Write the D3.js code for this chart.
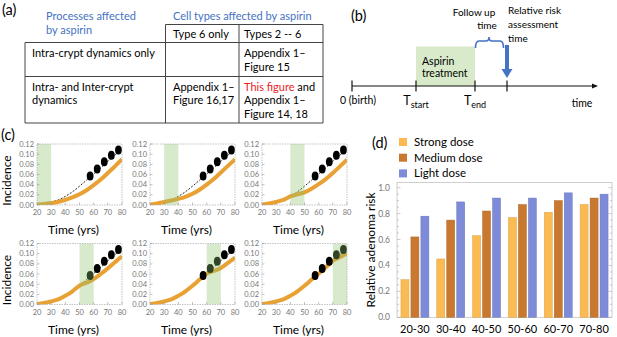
<!DOCTYPE html>
<html>
<head>
<meta charset="utf-8">
<script src="https://cdn.jsdelivr.net/npm/d3@7"></script>
<style>
body { margin: 0; background: #fff; }
text { font-family: Lato, "Open Sans", sans-serif; }
</style>
</head>
<body>
<svg id="fig" width="617" height="337"></svg>
<script>
// ---- (a) table text
var colHeads = ["Type 6 only", "Types 2 -- 6"];
var rowHeads = [["Intra-crypt dynamics only"], ["Intra- and Inter-crypt", "dynamics"]];

// ---- (c) model curves, read every 5 years
var ages = [20, 25, 30, 35, 40, 45, 50, 55, 60, 65, 70, 75, 80];
var baseline  = [0.001, 0.003, 0.006, 0.010, 0.017, 0.026, 0.037, 0.049, 0.061, 0.073, 0.086, 0.098, 0.110];
var treated20 = [0.001, 0.002, 0.004, 0.006, 0.010, 0.015, 0.021, 0.029, 0.039, 0.050, 0.063, 0.076, 0.090];
var treated30 = [0.001, 0.003, 0.006, 0.009, 0.012, 0.016, 0.022, 0.030, 0.040, 0.051, 0.064, 0.077, 0.090];
var treated40 = [0.001, 0.003, 0.006, 0.010, 0.017, 0.021, 0.025, 0.032, 0.041, 0.051, 0.063, 0.076, 0.089];
var treated50 = [0.001, 0.003, 0.006, 0.010, 0.017, 0.026, 0.037, 0.043, 0.050, 0.060, 0.071, 0.083, 0.095];
var treated60 = [0.001, 0.003, 0.006, 0.010, 0.017, 0.026, 0.037, 0.049, 0.061, 0.066, 0.072, 0.082, 0.092];
var treated70 = [0.001, 0.003, 0.006, 0.010, 0.017, 0.026, 0.037, 0.049, 0.061, 0.073, 0.086, 0.093, 0.101];
var treatStarts = [20, 30, 40, 50, 60, 70];
var dataAges = [57.5, 62.5, 67.5, 72.5, 77.5];
var dataIncidence = [0.057, 0.071, 0.085, 0.098, 0.108];
var incTicks = [0, 0.02, 0.04, 0.06, 0.08, 0.10, 0.12];
var yearTicks = [20, 30, 40, 50, 60, 70, 80];

// ---- (d) relative adenoma risk
var ageGroups = ["20-30", "30-40", "40-50", "50-60", "60-70", "70-80"];
var strongDose = [0.29, 0.45, 0.63, 0.77, 0.81, 0.87];
var mediumDose = [0.62, 0.75, 0.82, 0.87, 0.90, 0.92];
var lightDose  = [0.78, 0.89, 0.92, 0.92, 0.96, 0.95];
var doseNames  = ["Strong dose", "Medium dose", "Light dose"];
var doseColors = ["#fbbb52", "#c8792f", "#7d8bd8"];
var riskTicks  = [0, 0.2, 0.4, 0.6, 0.8, 1.0];

var blue = "#4472c4";
var svg = d3.select("#fig");

//Panel letters
[["(a)", 2, 15], ["(b)", 351, 21], ["(c)", 1, 140], ["(d)", 372, 148]].forEach(function(l){
    svg.append("text").attr("x", l[1]).attr("y", l[2])
        .style("font-size", "14.5px").text(l[0]);
});

// ================= (a) table =================
var ta = svg.append("g").attr("class", "table");
var lineCol = "#444";
function hline(x1, x2, y){ ta.append("line").attr("x1", x1).attr("x2", x2).attr("y1", y).attr("y2", y).attr("stroke", lineCol).attr("stroke-width", 1); }
function vline(x, y1, y2){ ta.append("line").attr("x1", x).attr("x2", x).attr("y1", y1).attr("y2", y2).attr("stroke", lineCol).attr("stroke-width", 1); }
hline(165.5, 323, 24.5);
hline(25, 323, 42.5);
hline(25, 323, 76.5);
hline(25, 323, 123);
vline(25, 42.5, 123);
vline(165.5, 24.5, 123);
vline(239, 24.5, 123);
vline(323, 24.5, 123);

ta.append("text").attr("x", 46).attr("y", 20).style("fill", blue).style("font-size", "11px").text("Processes affected");
ta.append("text").attr("x", 46).attr("y", 34).style("fill", blue).style("font-size", "11px").text("by aspirin");
ta.append("text").attr("x", 173).attr("y", 20).style("fill", blue).style("font-size", "11px").text("Cell types affected by aspirin");

function cellText(x, y, lines){
    lines.forEach(function(s, i){
        ta.append("text").attr("x", x).attr("y", y + i * 13.5).style("font-size", "11px").text(s);
    });
}
cellText(173, 38, [colHeads[0]]);
cellText(244, 38, [colHeads[1]]);
cellText(32, 57, rowHeads[0]);
cellText(32, 90.5, rowHeads[1]);
cellText(244, 57, ["Appendix 1\u2013", "Figure 15"]);
cellText(173, 90.5, ["Appendix 1\u2013", "Figure 16,17"]);
var tf = ta.append("text").attr("x", 244).attr("y", 90.5).style("font-size", "11px");
tf.append("tspan").style("fill", "#e8211c").text("This figure");
tf.append("tspan").text(" and");
cellText(244, 104, ["Appendix 1\u2013"]);
cellText(244, 118, ["Figure 14, 18"]);

// ================= (b) timeline =================
var tb = svg.append("g");
var axisY = 86;
var tickX = [352, 416, 475, 507];
tb.append("rect").attr("x", tickX[1]).attr("y", 46.5).attr("width", tickX[2] - tickX[1]).attr("height", axisY - 46.5)
    .attr("fill", "#d8eac9");
tb.append("line").attr("x1", 352).attr("x2", 594).attr("y1", axisY).attr("y2", axisY).attr("stroke", "#111").attr("stroke-width", 1.2);
tb.append("path").attr("d", "M598," + axisY + " L592," + (axisY - 2.5) + " L592," + (axisY + 2.5) + "Z").attr("fill", "#111");
tickX.forEach(function(x){
    tb.append("line").attr("x1", x).attr("x2", x).attr("y1", axisY - 5.5).attr("y2", axisY + 5.5).attr("stroke", "#111").attr("stroke-width", 1.2);
});
tb.append("text").attr("x", 422).attr("y", 65).style("font-size", "10.5px").text("Aspirin");
tb.append("text").attr("x", 422).attr("y", 77).style("font-size", "10.5px").text("treatment");
tb.append("text").attr("x", 358).attr("y", 104).attr("text-anchor", "middle").style("font-size", "10.5px").text("0 (birth)");
var ts = tb.append("text").attr("x", 416).attr("y", 105).attr("text-anchor", "middle").style("font-size", "12.5px");
ts.append("tspan").text("T");
ts.append("tspan").attr("dy", 3).style("font-size", "9px").text("start");
var te = tb.append("text").attr("x", 475).attr("y", 105).attr("text-anchor", "middle").style("font-size", "12.5px");
te.append("tspan").text("T");
te.append("tspan").attr("dy", 3).style("font-size", "9px").text("end");
tb.append("text").attr("x", 582).attr("y", 107).attr("text-anchor", "middle").style("font-size", "10.5px").text("time");
// follow up bracket
tb.append("path")
    .attr("d", "M475.5,48 Q475.5,41 479,41 L486,41 Q489,41 489,37 Q489,41 492,41 L500,41 Q503.5,41 503.5,48")
    .attr("fill", "none").attr("stroke", blue).attr("stroke-width", 1.6);
tb.append("text").attr("x", 474).attr("y", 16).attr("text-anchor", "middle").style("font-size", "10px").text("Follow up");
tb.append("text").attr("x", 487).attr("y", 29).attr("text-anchor", "middle").style("font-size", "10px").text("time");
tb.append("text").attr("x", 508).attr("y", 13.5).style("font-size", "10px").text("Relative risk");
tb.append("text").attr("x", 508).attr("y", 27.5).style("font-size", "10px").text("assessment");
tb.append("text").attr("x", 508).attr("y", 41.5).style("font-size", "10px").text("time");
tb.append("rect").attr("x", 505).attr("y", 45).attr("width", 4).attr("height", 25).attr("fill", blue);
tb.append("path").attr("d", "M501.5,69 L512.5,69 L507,78 Z").attr("fill", blue);

// ================= (c) incidence small multiples =================
var treatedSets = [treated20, treated30, treated40, treated50, treated60, treated70];
var plotLeft = [37, 150, 262];
var rowTop = [144, 243.5];
var pw = 85, ph = 61;
var tickGray = "#777";

treatStarts.forEach(function(start, i){
    var col = i % 3, row = Math.floor(i / 3);
    var x0 = plotLeft[col], y0 = rowTop[row];
    var xScale = d3.scaleLinear().domain([20, 80]).range([x0, x0 + pw]);
    var yScale = d3.scaleLinear().domain([0, 0.12]).range([y0 + ph, y0]);
    var g = svg.append("g").attr("class", "incPlot");

    svg.append("clipPath").attr("id", "clip" + i)
        .append("rect").attr("x", x0).attr("y", y0).attr("width", pw).attr("height", ph);

    var line = d3.line()
        .x(function(d){ return xScale(d[0]); })
        .y(function(d){ return yScale(d[1]); })
        .curve(d3.curveMonotoneX);

    var inner = g.append("g").attr("clip-path", "url(#clip" + i + ")");
    // no-aspirin curve, dashed
    inner.append("path")
        .datum(ages.map(function(a, k){ return [a, baseline[k]]; }))
        .attr("d", line).attr("fill", "none").attr("stroke", "#111")
        .attr("stroke-width", 0.9).attr("stroke-dasharray", "2,1.5");
    // with aspirin
    inner.append("path")
        .datum(ages.map(function(a, k){ return [a, treatedSets[i][k]]; }))
        .attr("d", line).attr("fill", "none").attr("stroke", "#e8a133")
        .attr("stroke-width", 4);
    // data points
    inner.selectAll("ellipse")
        .data(dataAges)
        .enter()
        .append("ellipse")
        .attr("cx", function(d){ return xScale(d); })
        .attr("cy", function(d, k){ return yScale(dataIncidence[k]); })
        .attr("rx", 3.4).attr("ry", 4.5)
        .attr("fill", "#000");
    // treatment window on top
    inner.append("rect")
        .attr("x", xScale(start)).attr("y", y0)
        .attr("width", xScale(start + 10) - xScale(start)).attr("height", ph)
        .attr("fill", "#8cc26a").attr("opacity", 0.35);

    // frame
    g.append("rect").attr("x", x0).attr("y", y0).attr("width", pw).attr("height", ph)
        .attr("fill", "none").attr("stroke", "#aaa").attr("stroke-width", 0.7).attr("stroke-dasharray", "1.5,1");

    // ticks + labels
    incTicks.forEach(function(t){
        g.append("line").attr("x1", x0).attr("x2", x0 + 2.5).attr("y1", yScale(t)).attr("y2", yScale(t))
            .attr("stroke", "#999").attr("stroke-width", 0.6);
        g.append("text").attr("x", x0 - 3).attr("y", yScale(t) + 2.6).attr("text-anchor", "end")
            .style("font-size", "7.5px").style("fill", tickGray).text(t.toFixed(2));
    });
    yearTicks.forEach(function(t){
        g.append("line").attr("x1", xScale(t)).attr("x2", xScale(t)).attr("y1", y0 + ph).attr("y2", y0 + ph - 2.5)
            .attr("stroke", "#999").attr("stroke-width", 0.6);
        g.append("text").attr("x", xScale(t)).attr("y", y0 + ph + 10).attr("text-anchor", "middle")
            .style("font-size", "7.5px").style("fill", tickGray).text(t);
    });
    g.append("text").attr("x", x0 + pw / 2 - 6).attr("y", y0 + ph + 29).attr("text-anchor", "middle")
        .style("font-size", "12px").text("Time (yrs)");
    if (col === 0) {
        g.append("text").attr("transform", "translate(11," + (y0 + ph / 2 + 6) + ") rotate(-90)")
            .attr("text-anchor", "middle").style("font-size", "12px").text("Incidence");
    }
});

// ================= (d) relative adenoma risk =================
var dLeft = 397, dRight = 612, dTop = 182.5, dBottom = 317.3;
var xGroup = d3.scaleBand().domain(ageGroups).range([dLeft, dRight]).paddingInner(0.22).paddingOuter(0.11);
var xDose = d3.scaleBand().domain(doseNames).range([0, xGroup.bandwidth()]).paddingInner(0.2);
var yRisk = d3.scaleLinear().domain([0, 1.04]).range([dBottom, dTop]);
var doseSeries = [strongDose, mediumDose, lightDose];

var gd = svg.append("g").attr("class", "riskChart");
gd.append("rect").attr("x", dLeft).attr("y", dTop).attr("width", dRight - dLeft).attr("height", dBottom - dTop)
    .attr("fill", "none").attr("stroke", "#bbb").attr("stroke-width", 0.7);

doseSeries.forEach(function(series, s){
    gd.selectAll("rect.dose" + s)
        .data(series)
        .enter()
        .append("rect")
        .attr("class", "dose" + s)
        .attr("x", function(d, k){ return xGroup(ageGroups[k]) + xDose(doseNames[s]); })
        .attr("y", function(d){ return yRisk(d); })
        .attr("width", xDose.bandwidth())
        .attr("height", function(d){ return yRisk(0) - yRisk(d); })
        .attr("fill", doseColors[s])
        .attr("stroke", d3.color(doseColors[s]).darker(0.4))
        .attr("stroke-width", 0.5);
});

// y ticks
d3.range(0, 1.04, 0.05).forEach(function(t){
    var major = Math.abs(t * 5 - Math.round(t * 5)) < 1e-6;
    gd.append("line").attr("x1", dLeft).attr("x2", dLeft + (major ? 3.5 : 2)).attr("y1", yRisk(t)).attr("y2", yRisk(t))
        .attr("stroke", "#aaa").attr("stroke-width", 0.6);
    gd.append("line").attr("x1", dRight).attr("x2", dRight - (major ? 3.5 : 2)).attr("y1", yRisk(t)).attr("y2", yRisk(t))
        .attr("stroke", "#aaa").attr("stroke-width", 0.6);
});
riskTicks.forEach(function(t){
    gd.append("text").attr("x", dLeft - 7).attr("y", yRisk(t) + 3).attr("text-anchor", "end")
        .style("font-size", "8.5px").style("fill", tickGray).text(t.toFixed(1));
});
ageGroups.forEach(function(a){
    gd.append("text").attr("x", xGroup(a) + xGroup.bandwidth() / 2).attr("y", 333).attr("text-anchor", "middle")
        .style("font-size", "11px").text(a);
});
gd.append("text").attr("transform", "translate(375," + ((dTop + dBottom) / 2) + ") rotate(-90)")
    .attr("text-anchor", "middle").style("font-size", "12px").text("Relative adenoma risk");

// legend
doseNames.forEach(function(n, s){
    var ly = 142 + s * 15.7;
    gd.append("rect").attr("x", 399).attr("y", ly - 4).attr("width", 8).attr("height", 8)
        .attr("fill", doseColors[s]);
    gd.append("text").attr("x", 414).attr("y", ly + 4).style("font-size", "11.5px").text(n);
});
</script>
</body>
</html>
